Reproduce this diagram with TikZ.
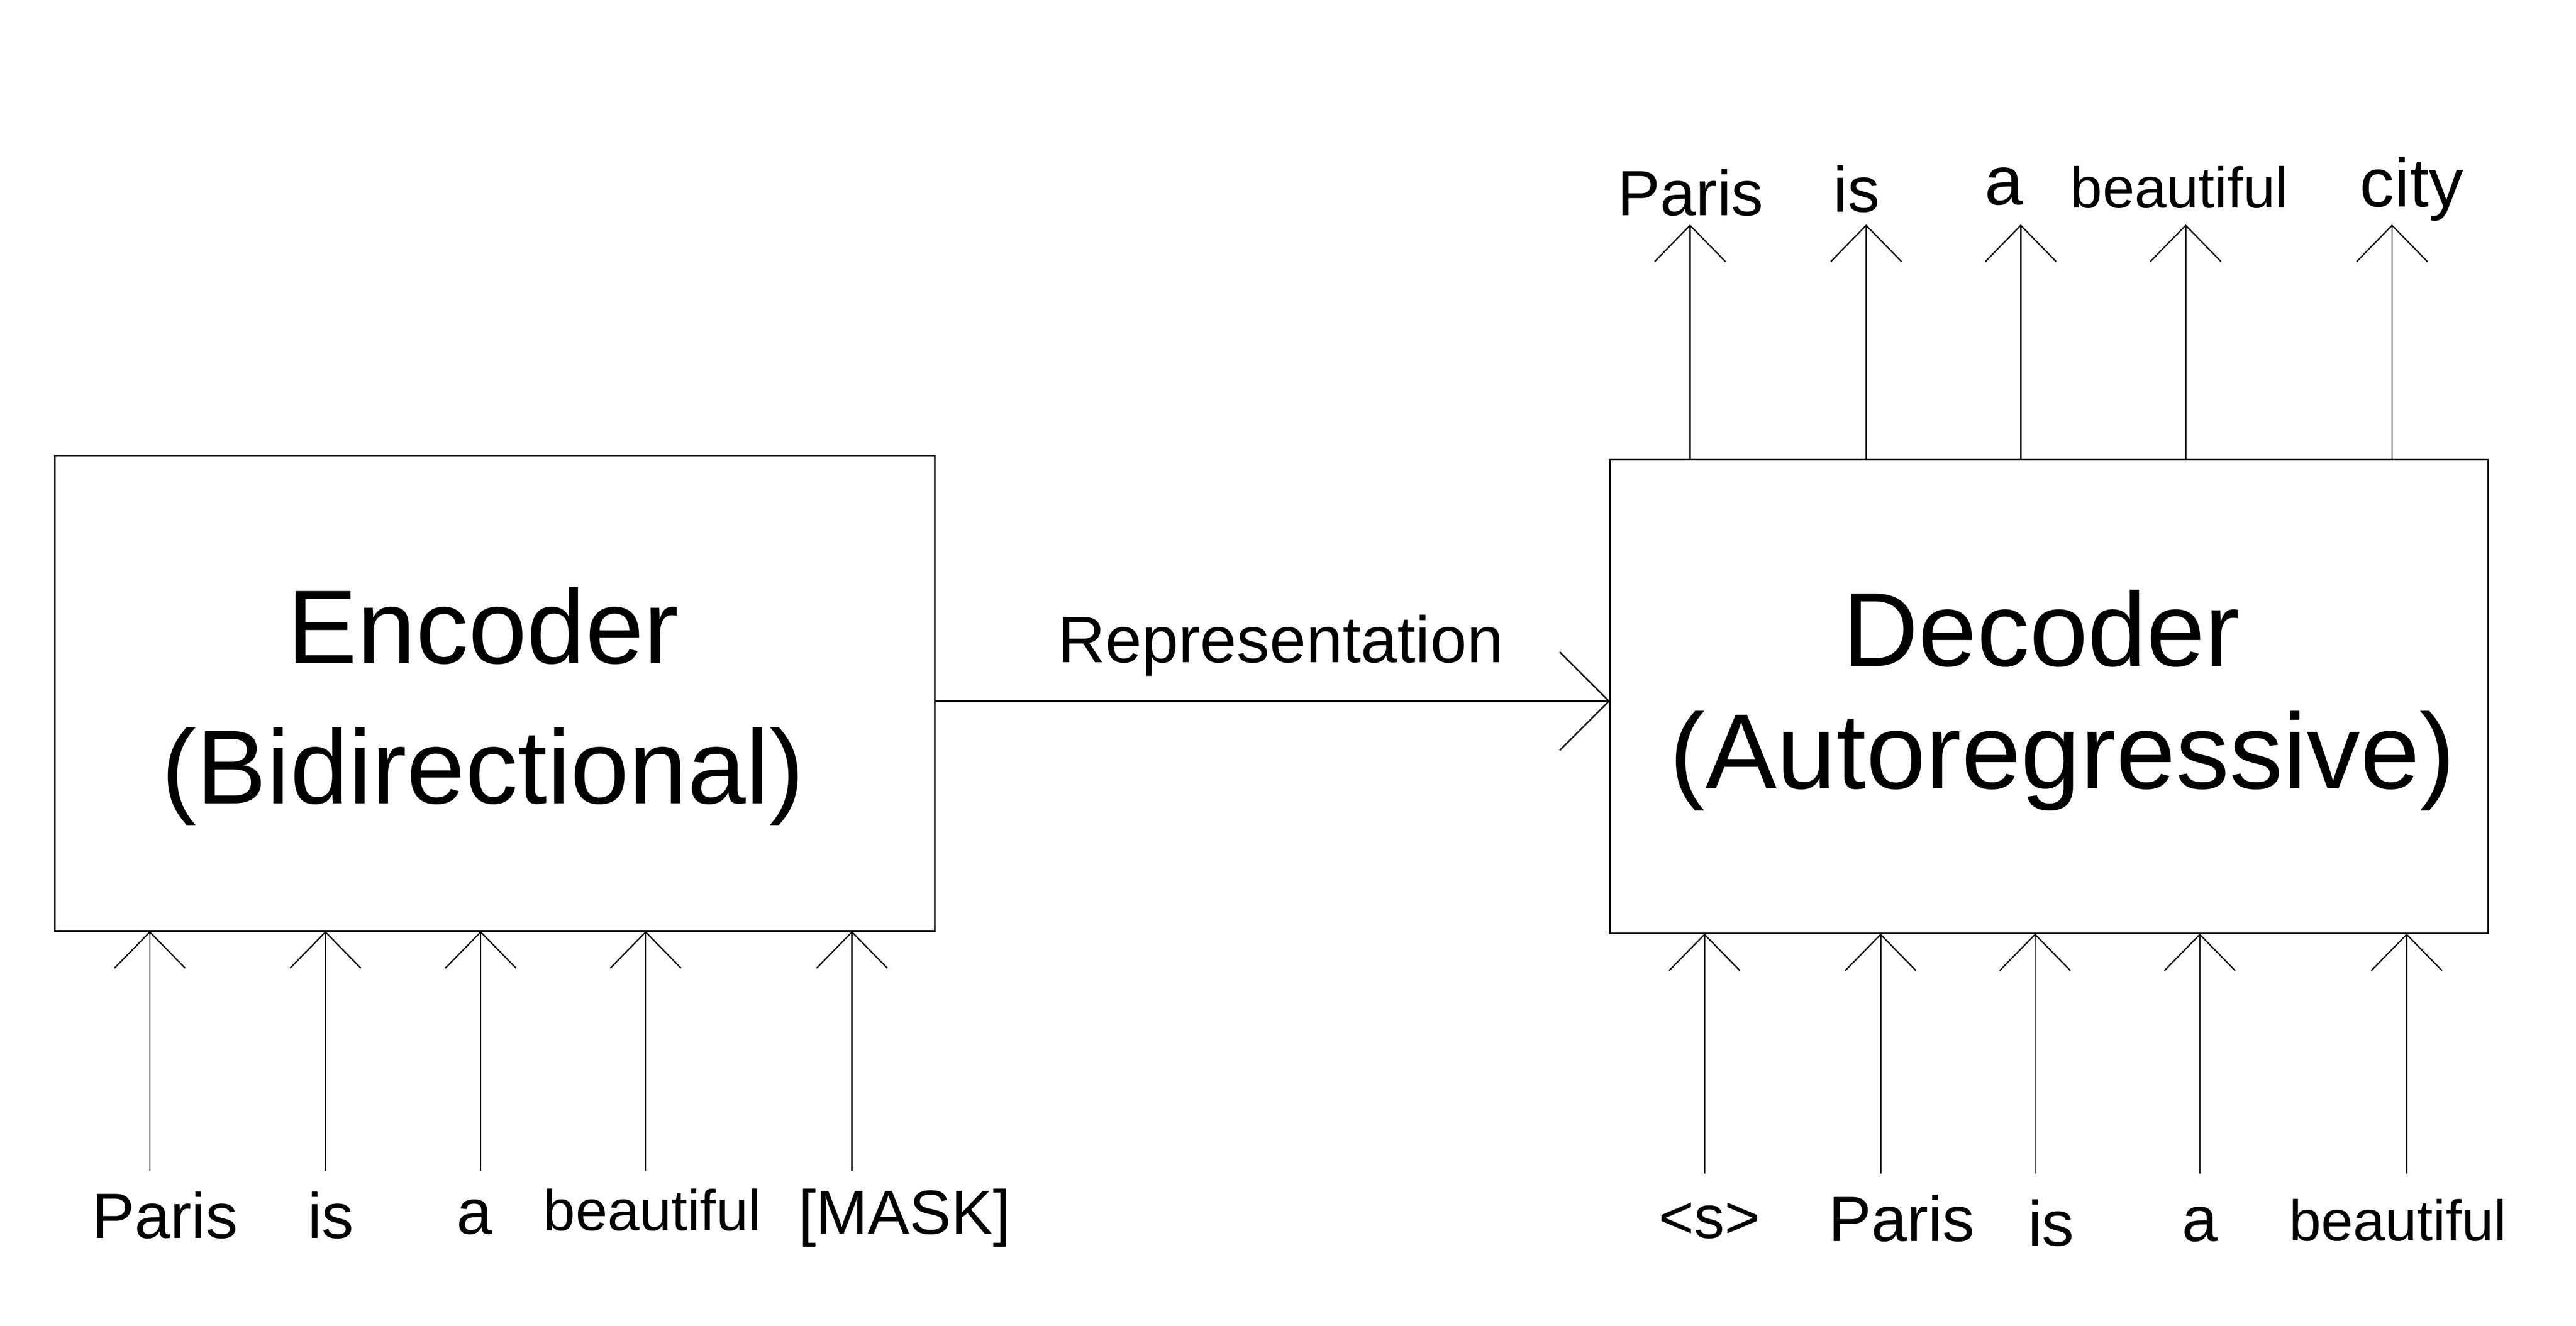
\documentclass[tikz,border=0pt]{standalone}
\usepackage{fontspec}
\setmainfont{Liberation Sans}
\usetikzlibrary{arrows.meta}
\tikzset{
  blk/.style={draw, line width=0.5pt, inner sep=0pt, outer sep=0pt},
  ttl/.style={font=\fontsize{32pt}{38pt}\selectfont, inner sep=0pt, anchor=base},
  lbl/.style={font=\fontsize{20pt}{24pt}\selectfont, inner sep=0pt, anchor=base},
  tok/.style={font=\fontsize{19.5pt}{23pt}\selectfont, inner sep=0pt, anchor=base},
  tokw/.style={font=\fontsize{17.5pt}{21pt}\selectfont, inner sep=0pt, anchor=base},
  flow/.style={line width=0.4pt, -{Straight Barb[length=11pt,width=21.5pt]}},
  repflow/.style={line width=0.45pt, -{Straight Barb[length=15pt,width=30pt]}}
}

\begin{document}
\begin{tikzpicture}[x=0.5pt,y=0.5pt,yscale=-1,xscale=1]
\useasboundingbox (0,0) rectangle (1568,807.3);

%Shape: Rectangle [id:enc]
\node [blk, minimum width=267.75pt, minimum height=144.6pt] (enc) at (301.25,422.4) {};
%Shape: Rectangle [id:dec]
\node [blk, minimum width=267.3pt, minimum height=144.35pt] (dec) at (1247.3,424.15) {};

% Text Node
\node [ttl] (enct) at (294,404.1) {Encoder};
% Text Node
\node [ttl] (encs) at (294,489.4) {(Bidirectional)};
% Text Node
\node [ttl] (dect) at (1242.5,405.7) {Decoder};
% Text Node
\node [ttl, font=\fontsize{32.6pt}{38pt}\selectfont] (decs) at (1255.5,480.3) {(Autoregressive)};

% Text Node
\node [lbl] (rep) at (779.5,403.3) {Representation};
%Straight Lines [id:repr]
\coordinate (rin) at (569,427);
\draw [repflow] (rin) -- (rin -| dec.west);

% Text Node
\node [tok] (ein1) at (100.3,754) {Paris};
% Text Node
\node [tok] (ein2) at (201.4,754) {is};
% Text Node
\node [tok] (ein3) at (288.8,751.6) {a};
% Text Node
\node [tokw] (ein4) at (397,749.3) {beautiful};
% Text Node
\node [tok, font=\fontsize{19pt}{23pt}\selectfont] (ein5) at (550.5,751.6) {[MASK]};

%Straight Lines [id:ea1]
\coordinate (ea1) at (91.2,713.2);
\draw [flow] (ea1) -- (ea1 |- enc.south);
%Straight Lines [id:ea2]
\coordinate (ea2) at (198.1,713.2);
\draw [flow] (ea2) -- (ea2 |- enc.south);
%Straight Lines [id:ea3]
\coordinate (ea3) at (292.6,713.2);
\draw [flow] (ea3) -- (ea3 |- enc.south);
%Straight Lines [id:ea4]
\coordinate (ea4) at (393,713.2);
\draw [flow] (ea4) -- (ea4 |- enc.south);
%Straight Lines [id:ea5]
\coordinate (ea5) at (518.6,713.2);
\draw [flow] (ea5) -- (ea5 |- enc.south);

% Text Node
\node [tok, font=\fontsize{18.5pt}{22pt}\selectfont] (din1) at (1040.6,754) {<s>};
% Text Node
\node [tok] (din2) at (1157.5,756) {Paris};
% Text Node
\node [tok] (din3) at (1248.5,758.8) {is};
% Text Node
\node [tok] (din4) at (1339,756) {a};
% Text Node
\node [tokw] (din5) at (1459.5,755.5) {beautiful};

%Straight Lines [id:da1]
\coordinate (da1) at (1037.5,714.7);
\draw [flow] (da1) -- (da1 |- dec.south);
%Straight Lines [id:da2]
\coordinate (da2) at (1144.7,714.7);
\draw [flow] (da2) -- (da2 |- dec.south);
%Straight Lines [id:da3]
\coordinate (da3) at (1238.7,714.7);
\draw [flow] (da3) -- (da3 |- dec.south);
%Straight Lines [id:da4]
\coordinate (da4) at (1339,714.7);
\draw [flow] (da4) -- (da4 |- dec.south);
%Straight Lines [id:da5]
\coordinate (da5) at (1464.9,714.7);
\draw [flow] (da5) -- (da5 |- dec.south);

% Text Node
\node [tok] (dout1) at (1029,131.2) {Paris};
% Text Node
\node [tok] (dout2) at (1130,129) {is};
% Text Node
\node [tok, font=\fontsize{21pt}{25pt}\selectfont] (dout3) at (1219.7,124.8) {a};
% Text Node
\node [tokw] (dout4) at (1326.5,126.6) {beautiful};
% Text Node
\node [tok, font=\fontsize{21pt}{25pt}\selectfont] (dout5) at (1467.9,125.9) {city};

%Straight Lines [id:do1]
\coordinate (do1) at (1028.7,136.7);
\draw [flow] (do1 |- dec.north) -- (do1);
%Straight Lines [id:do2]
\coordinate (do2) at (1135.9,136.7);
\draw [flow] (do2 |- dec.north) -- (do2);
%Straight Lines [id:do3]
\coordinate (do3) at (1230,136.7);
\draw [flow] (do3 |- dec.north) -- (do3);
%Straight Lines [id:do4]
\coordinate (do4) at (1330.4,136.7);
\draw [flow] (do4 |- dec.north) -- (do4);
%Straight Lines [id:do5]
\coordinate (do5) at (1456,136.7);
\draw [flow] (do5 |- dec.north) -- (do5);

\end{tikzpicture}
\end{document}
